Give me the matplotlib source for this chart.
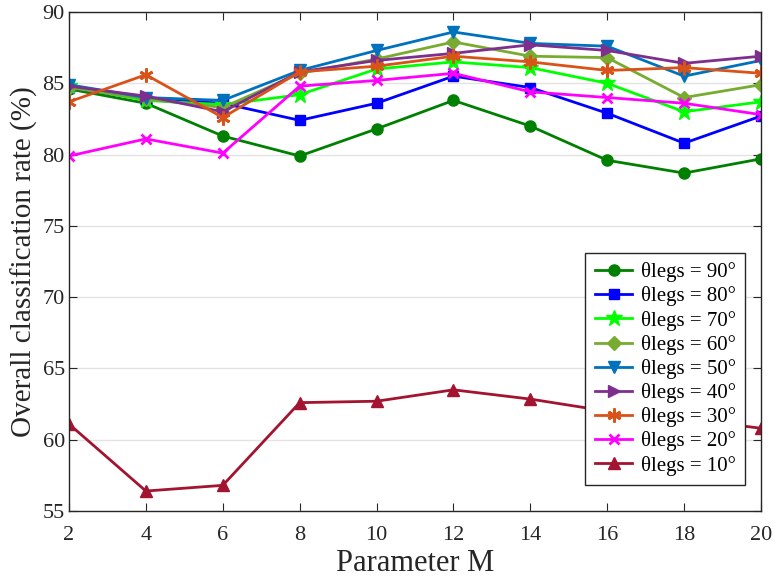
import matplotlib
matplotlib.use("Agg")
import matplotlib.pyplot as plt

plt.rcParams['font.family'] = ['Liberation Serif', 'DejaVu Serif']
plt.rcParams['mathtext.fontset'] = 'stix'

M = [2, 4, 6, 8, 10, 12, 14, 16, 18, 20]

rate_90 = [84.6, 83.6, 81.3, 79.9, 81.8, 83.8, 82.0, 79.6, 78.7, 79.7]
rate_80 = [84.7, 83.9, 83.6, 82.4, 83.6, 85.5, 84.7, 82.9, 80.8, 82.7]
rate_70 = [84.8, 83.8, 83.5, 84.2, 86.0, 86.5, 86.1, 85.0, 83.0, 83.7]
rate_60 = [84.7, 83.9, 83.3, 85.7, 86.7, 87.9, 86.9, 86.8, 84.0, 84.9]
rate_50 = [84.9, 84.0, 83.8, 85.9, 87.3, 88.6, 87.8, 87.6, 85.5, 86.6]
rate_40 = [84.8, 84.1, 83.0, 85.8, 86.6, 87.1, 87.7, 87.3, 86.4, 86.9]
rate_30 = [83.7, 85.6, 82.6, 85.8, 86.2, 86.9, 86.5, 85.9, 86.1, 85.7]
rate_20 = [79.9, 81.1, 80.1, 84.8, 85.2, 85.7, 84.4, 84.0, 83.6, 82.8]
rate_10 = [61.1, 56.4, 56.8, 62.6, 62.7, 63.5, 62.85, 62.0, 61.5, 60.8]

labels = ['θlegs = 90°', 'θlegs = 80°', 'θlegs = 70°', 'θlegs = 60°',
          'θlegs = 50°', 'θlegs = 40°', 'θlegs = 30°', 'θlegs = 20°',
          'θlegs = 10°']

series = [rate_90, rate_80, rate_70, rate_60, rate_50, rate_40, rate_30, rate_20, rate_10]
colors = ['#008000', '#0000FF', '#00FF00', '#77AC30', '#0072BD',
          '#7E2F8E', '#D95319', '#FF00FF', '#A2142F']
markers = ['o', 's', '*', 'D', 'v', '>', (6, 2, 0), 'x', '^']
msizes = [8, 7, 12, 7, 9, 9, 10, 7, 9]

fig = plt.figure(figsize=(7.76, 5.79), dpi=100)
ax = fig.add_axes([69 / 776, 1 - 511 / 579, (761 - 69) / 776, (511 - 12) / 579])

for y, c, m, ms, lab in zip(series, colors, markers, msizes, labels):
    ax.plot(M, y, color=c, marker=m, markersize=ms, linewidth=2,
            markerfacecolor=c, markeredgecolor=c,
            markeredgewidth=2 if m in ('x', (6, 2, 0)) else 1,
            label=lab)

ax.set_xlim(2, 20)
ax.set_ylim(55, 90)
ax.set_xticks(M)
ax.set_yticks(range(55, 91, 5))
ax.yaxis.grid(True, color='#e3e3e3', linewidth=1)
ax.set_axisbelow(True)
ax.tick_params(direction='in', top=True, right=True, labelsize=16, length=6,
               colors='#262626')
ax.tick_params(axis='x', pad=11)
ax.tick_params(axis='y', pad=3)
for s in ax.spines.values():
    s.set_color('#262626')
    s.set_linewidth(1)

ax.set_xlabel('Parameter M', fontsize=22, color='#262626', labelpad=3)
ax.set_ylabel('Overall classification rate (%)', fontsize=21, color='#262626', labelpad=3)

leg = ax.legend(loc='lower right', bbox_to_anchor=((745 - 69) / 692, (511 - 485) / 499),
                borderaxespad=0, fontsize=15, framealpha=1,
                frameon=True, fancybox=False, edgecolor='#262626',
                handlelength=1.8, labelspacing=0.2, borderpad=0.45, handletextpad=0.4)
leg.get_frame().set_linewidth(1)

fig.savefig('out.png', dpi=100)
